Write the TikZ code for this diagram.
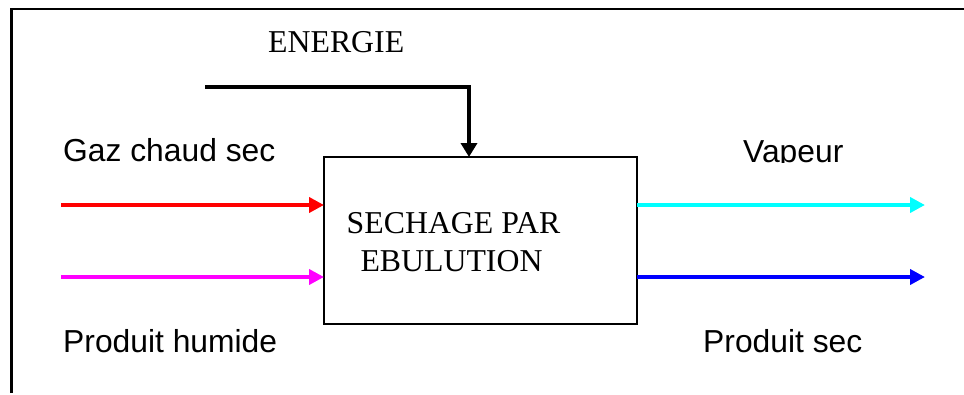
\documentclass[tikz,border=0pt]{standalone}
\usepackage{fontspec}
\setmainfont{Liberation Serif}
\newfontfamily\arialf{Liberation Sans}
\usetikzlibrary{arrows.meta}
\definecolor{cred}{RGB}{255,0,0}
\definecolor{cmag}{RGB}{255,0,255}
\definecolor{ccyan}{RGB}{0,255,255}
\definecolor{cblue}{RGB}{0,0,255}
\tikzset{
  x=1pt, y=-1pt,
  frameline/.style={line width=2.5pt, black},
  procbox/.style={draw, line width=2pt, minimum width=313pt, minimum height=167pt, inner sep=0pt, outer sep=0pt},
  serlbl/.style={font=\fontsize{31.8}{38}\selectfont, inner sep=0pt, anchor=base},
  sanslbl/.style={font=\arialf\fontsize{31.8}{38}\selectfont, inner sep=0pt, anchor=base west},
  flow/.style={line width=4.5pt, -{Triangle[length=15pt,width=15pt]}},
  energyflow/.style={line width=4pt, -{Triangle[length=14pt,width=16pt]}}
}
\begin{document}
\begin{tikzpicture}
\useasboundingbox (0,0) rectangle (964,394);
% frame (top and left)
\draw[frameline] (11.5,393) -- (11.5,9) -- (964,9);
% process box
\node[procbox] (box) at (480.5,240.5) {};
\node[serlbl] (l1) at (453.5,233) {SECHAGE PAR};
\node[serlbl] (l2) at (451.5,271) {EBULUTION};
% energy
\node[serlbl, anchor=base west] (energie) at (268,52) {ENERGIE};
\coordinate (estart) at (205,87);
\coordinate (ecorner) at (469,87);
\draw[energyflow, line join=miter] (estart) -- (ecorner) -- (ecorner |- box.north);
% inputs
\coordinate (gin) at (61,205);
\coordinate (pin) at (61,277);
\draw[flow, cred] (gin) -- (gin -| box.west);
\draw[flow, cmag] (pin) -- (pin -| box.west);
% outputs
\coordinate (vout) at (925,205);
\coordinate (sout) at (925,277);
\draw[flow, ccyan] (vout -| box.east) -- (vout);
\draw[flow, cblue] (sout -| box.east) -- (sout);
% labels
\node[sanslbl] (gaz) at (63,161) {Gaz chaud sec};
\node[sanslbl] (hum) at (63,352) {Produit humide};
\node[sanslbl] (sec) at (703,352) {Produit sec};
\begin{scope}
\clip (700,100) rectangle (900,162);
\node[sanslbl] (vap) at (743,162) {Vapeur};
\end{scope}
\end{tikzpicture}
\end{document}
